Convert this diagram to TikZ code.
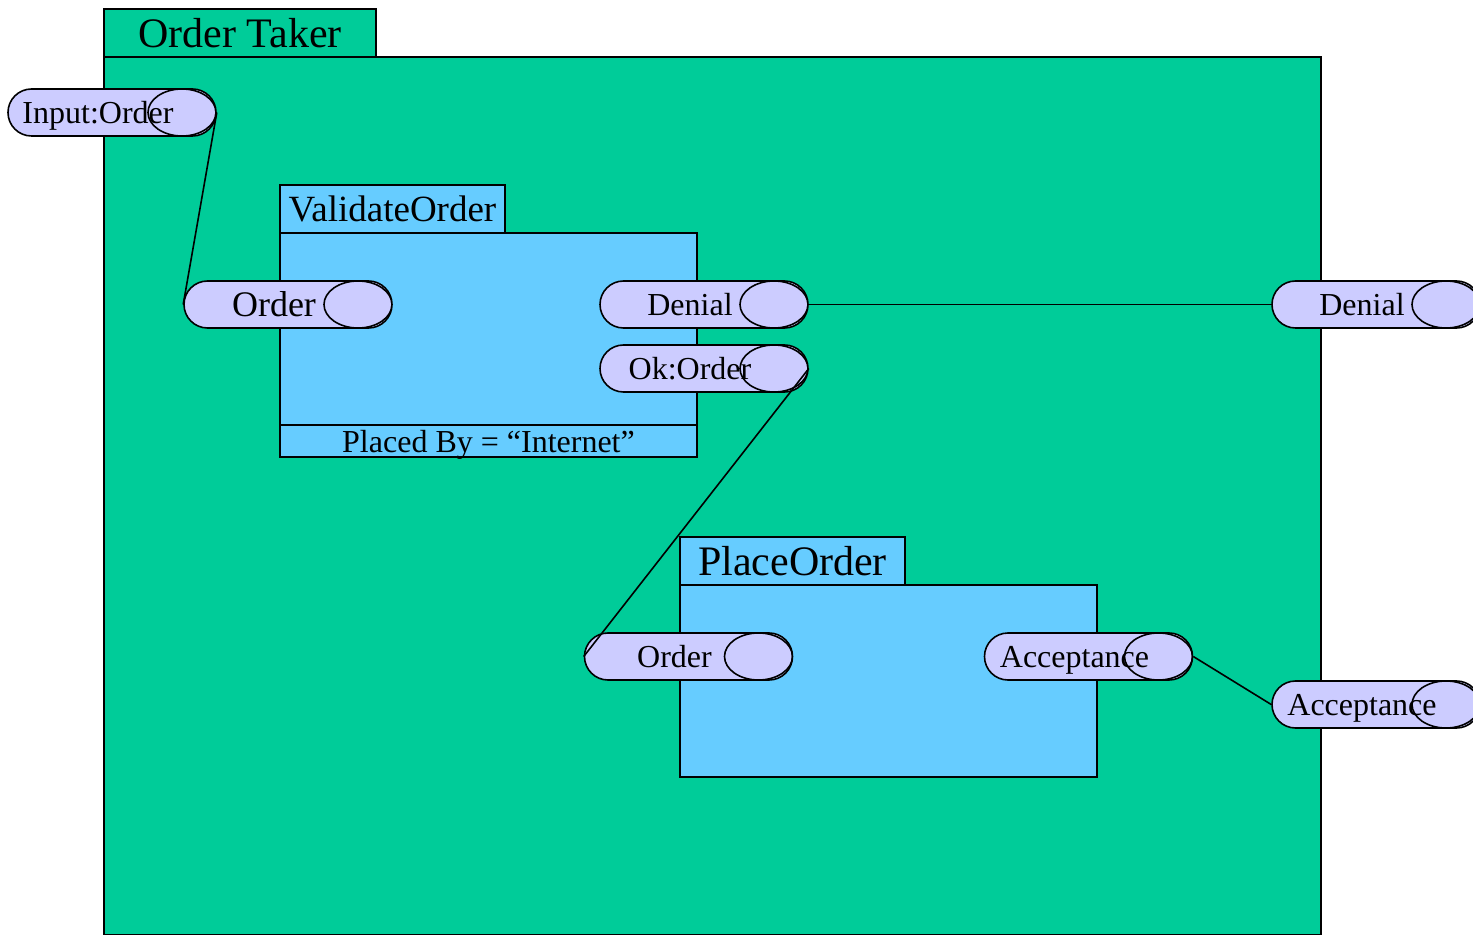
\documentclass[tikz,border=0pt]{standalone}
\usepackage{fontspec}
\setmainfont{Liberation Serif}
\usepackage{tikz}
\usetikzlibrary{shapes.misc}
\definecolor{takergreen}{RGB}{0,204,153}
\definecolor{stepblue}{RGB}{102,204,255}
\definecolor{portlilac}{RGB}{204,204,255}
\tikzset{
    boxnode/.style={draw=black,inner sep=0pt,outer sep=0pt,align=center,text depth=0pt},
    tabnode/.style={boxnode,anchor=south west,minimum height=24pt},
    bodynode/.style={boxnode,anchor=north west},
    portnode/.style={rounded rectangle,draw=black,fill=portlilac,inner sep=0pt,
        minimum width=104pt,minimum height=23.5pt,text depth=0pt,
        font=\fontsize{16}{18}\selectfont,
        execute at end node={\hspace*{14pt}},
        path picture={\draw (path picture bounding box.east) ++(-17pt,0) ellipse (17pt and 11.75pt);}}
}

\begin{document}
\begin{tikzpicture}[x=0.5pt,y=-0.5pt,thick]
\useasboundingbox (0,0) rectangle (1473,935);

% outer component
\node[tabnode,fill=takergreen,minimum width=136pt,font=\fontsize{21}{24}\selectfont] (takertab) at (104,57) {Order Taker};
\node[bodynode,fill=takergreen,minimum width=608.5pt,minimum height=439pt] (takerbody) at (104,57) {};

% validate step
\node[tabnode,fill=stepblue,minimum width=112.5pt,font=\fontsize{18.5}{21}\selectfont] (validatetab) at (280,233) {ValidateOrder};
\node[bodynode,fill=stepblue,minimum width=208.5pt,minimum height=96pt] (validatebody) at (280,233) {};
\node[bodynode,fill=stepblue,minimum width=208.5pt,minimum height=16pt,font=\fontsize{16}{18}\selectfont] (validatecond) at (validatebody.south west) {Placed By = ``Internet''};

% place step
\node[tabnode,fill=stepblue,minimum width=112.5pt,font=\fontsize{21}{24}\selectfont] (placetab) at (680,585) {PlaceOrder};
\node[bodynode,fill=stepblue,minimum width=208.5pt,minimum height=96pt] (placebody) at (680,585) {};

% ports
\node[portnode] (inorder) at (112,112.5) {Input:Order};
\node[portnode,font=\fontsize{18}{20}\selectfont] (vorder) at (288,304.5) {Order};
\node[portnode] (vdenial) at (704,304.5) {Denial};
\node[portnode] (vok) at (704,368.5) {Ok:Order};
\node[portnode] (outdenial) at (1376,304.5) {Denial};
\node[portnode] (porder) at (688.5,656.5) {Order};
\node[portnode] (pacc) at (1088.5,656.5) {Acceptance};
\node[portnode] (outacc) at (1376,704.5) {Acceptance};

\draw (inorder.east) -- (vorder.west);
\draw (vdenial.east) -- (outdenial.west);
\draw (vok.east) -- (porder.west);
\draw (pacc.east) -- (outacc.west);

\end{tikzpicture}
\end{document}
